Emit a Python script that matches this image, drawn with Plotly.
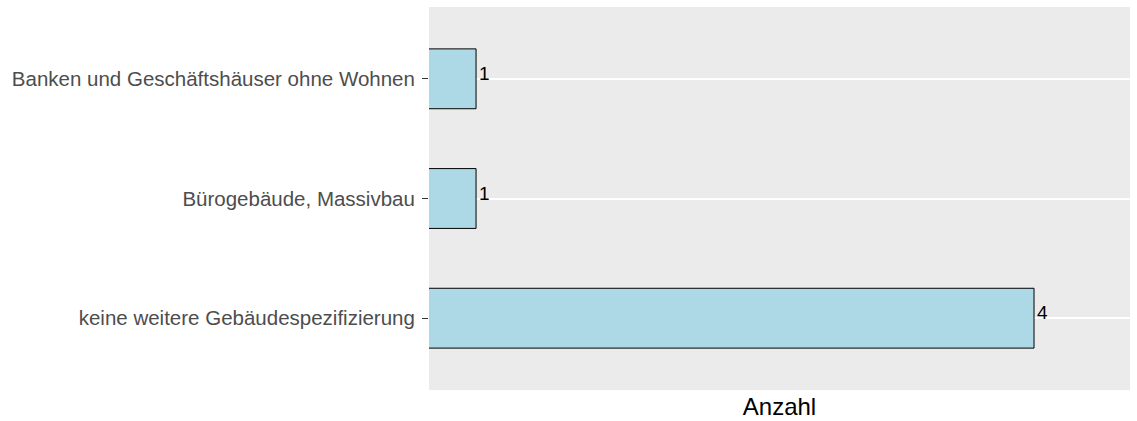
import plotly.graph_objects as go

categories = ["Banken und Geschäftshäuser ohne Wohnen",
              "Bürogebäude, Massivbau",
              "keine weitere Gebäudespezifizierung"]
counts = [1, 1, 4]
value_labels = ["1", "1", "4"]

FONT = "Liberation Sans, Arial, sans-serif"

fig = go.Figure()
fig.add_trace(go.Bar(
    x=counts, y=categories, orientation="h", width=0.5,
    marker=dict(color="#ADD8E6", line=dict(color="#000000", width=1)),
    hoverinfo="skip",
))

for c, v, t in zip(categories, counts, value_labels):
    fig.add_annotation(x=v, y=c, text=t, showarrow=False,
                       xanchor="left", yanchor="bottom",
                       xshift=1, yshift=-7,
                       font=dict(family=FONT, size=19, color="#000000"))

fig.update_layout(
    width=1137, height=421,
    margin=dict(l=429, r=7, t=7, b=31),
    paper_bgcolor="#FFFFFF", plot_bgcolor="#EBEBEB",
    showlegend=False,
    font=dict(family=FONT),
)
fig.update_xaxes(range=[0.747, 4.516], showticklabels=False, showgrid=False,
                 zeroline=False, ticks="", showline=False,
                 title=dict(text="Anzahl", font=dict(family=FONT, size=24, color="#000000"),
                            standoff=8))
fig.update_yaxes(autorange=False, range=[2.6, -0.6], showgrid=True,
                 gridcolor="#FFFFFF", gridwidth=2, zeroline=False, showline=False,
                 ticks="outside", ticklen=6, tickwidth=1.3, tickcolor="#333333",
                 tickfont=dict(family=FONT, size=20.5, color="#4D4D4D"),
                 ticklabelstandoff=3)

fig.write_html("out.html", config={"displayModeBar": False},
               post_script="document.body.style.margin='0';document.body.style.overflow='hidden';")
